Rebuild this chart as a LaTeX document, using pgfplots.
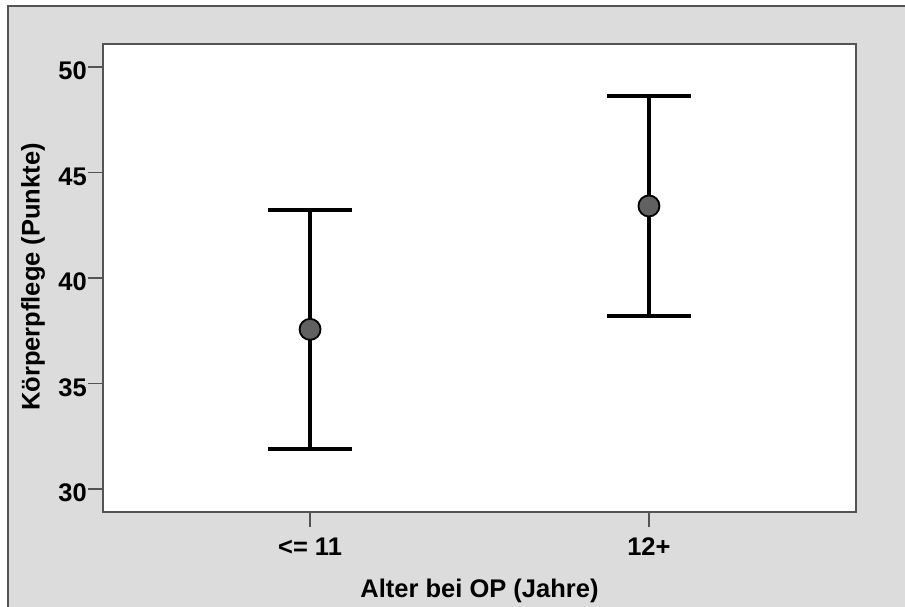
\documentclass[border=0pt]{standalone}
\usepackage{fontspec}
\setmainfont{Liberation Sans}
\usepackage{pgfplots}
\pgfplotsset{compat=1.18}
\definecolor{bg}{gray}{0.863}
\definecolor{axc}{gray}{0.33}
\definecolor{mk}{gray}{0.38}
\begin{document}
\begin{tikzpicture}[x=1pt,y=1pt]
\useasboundingbox (-103,-95) rectangle (802,512);
\fill[white] (-103,-95) rectangle (802,512);
\filldraw[fill=bg, draw=axc, line width=1.5pt] (-95,-110) rectangle (815,506);
\begin{axis}[at={(0,0)}, anchor=south west, scale only axis,
  width=753pt, height=468pt,
  xmin=-0.611, xmax=1.611, ymin=28.91, ymax=51.1,
  xtick={0,1}, xticklabels={{<= 11},{12+}},
  ytick={30,35,40,45,50},
  axis background/.style={fill=white},
  axis line style={draw=axc, line width=1.5pt},
  tick style={draw=axc, line width=1.5pt},
  tick align=outside, major tick length=15pt,
  xtick pos=lower, ytick pos=left,
  /pgf/number format/assume math mode=true,
  ticklabel style={font=\fontsize{25.5}{29}\selectfont\bfseries, inner sep=0pt},
  xticklabel style={anchor=base, yshift=-28pt},
  yticklabel style={anchor=east, yshift=-4pt, xshift=-1pt},
  label style={font=\fontsize{25.5}{30}\selectfont\bfseries},
  xlabel={Alter bei OP (Jahre)},
  xlabel style={at={(axis description cs:0.5,0)}, anchor=base, yshift=-86pt},
  clip=false,
]
\addplot[black, only marks, mark=none,
  error bars/.cd, y dir=both, y explicit,
  error mark=|,
  error mark options={black, line width=4.2pt, mark size=42pt},
  error bar style={black, line width=4.2pt}]
  coordinates {(0,37.57) +- (0,5.66) (1,43.42) +- (0,5.22)};
\addplot[only marks, mark=*, mark size=10.5pt,
  mark options={fill=mk, draw=black, line width=1.8pt}]
  coordinates {(0,37.57) (1,43.42)};
\end{axis}
\node[rotate=90, font=\fontsize{25.5}{30}\selectfont\bfseries] at (-70,235) {Körperpflege (Punkte)};
\end{tikzpicture}
\end{document}
